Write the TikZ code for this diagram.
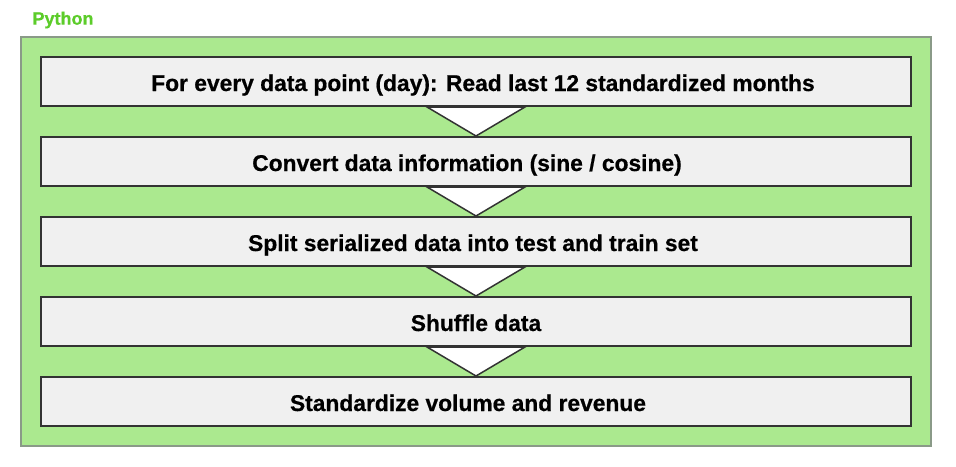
\documentclass[tikz,border=0pt]{standalone}
\usepackage{fontspec}
\setmainfont{Liberation Sans}[BoldFeatures={FakeBold=0.6}]
\definecolor{panelgreen}{HTML}{ABE98F}
\definecolor{panelborder}{HTML}{8A9A88}
\definecolor{labelgreen}{HTML}{5CCC2A}
\definecolor{boxfill}{HTML}{F0F0F0}
\definecolor{boxline}{HTML}{333333}
\begin{document}
\begin{tikzpicture}[x=1pt,y=-1pt,
  stepbox/.style={draw=boxline, line width=2pt, fill=boxfill, minimum width=870pt,
    minimum height=49pt, inner sep=0pt, anchor=north west,
    text height=19pt, text depth=0pt,
    font=\fontsize{22.8}{26}\selectfont\bfseries},
  flowtri/.style={draw=boxline, line width=1.5pt, fill=white, line join=miter}]
  \useasboundingbox (0,0) rectangle (956,466);
  % container
  \node[draw=panelborder, line width=1.5pt, fill=panelgreen, minimum width=910pt,
    minimum height=409pt, inner sep=0pt, anchor=north west] (panel) at (20,36) {};
  \node[anchor=west, text=labelgreen, font=\fontsize{18}{21}\selectfont\bfseries]
    (title) at (29,20) {Python};
  % steps
  \node[stepbox] (s1) at (40,56) {\hspace*{14pt}For every data point (day): Read last 12 standardized months};
  \node[stepbox] (s2) at (40,136) {Convert data information (sine / cosine)\hspace*{18pt}};
  \node[stepbox] (s3) at (40,216) {Split serialized data into test and train set\hspace*{6pt}};
  \node[stepbox] (s4) at (40,296) {Shuffle data};
  \node[stepbox] (s5) at (40,376) {Standardize volume and revenue\hspace*{16pt}};
  % arrows between steps
  \foreach \a/\b in {s1/s2,s2/s3,s3/s4,s4/s5}{
    \draw[flowtri] ([xshift=-49pt]\a.south) -- ([xshift=49pt]\a.south) -- (\b.north) -- cycle;
  }
\end{tikzpicture}
\end{document}
